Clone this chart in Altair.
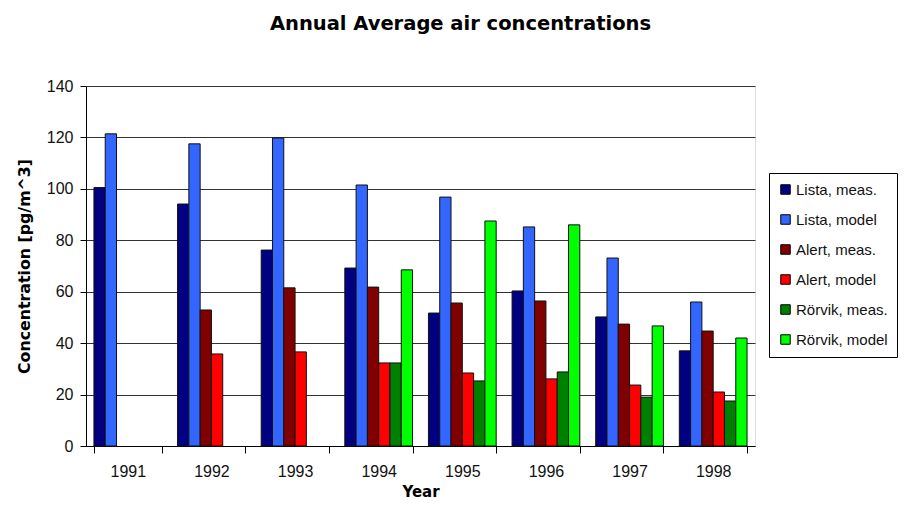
import altair as alt
import pandas as pd

years = ["1991", "1992", "1993", "1994", "1995", "1996", "1997", "1998"]
series = ["Lista, meas.", "Lista, model", "Alert, meas.", "Alert, model", "Rörvik, meas.", "Rörvik, model"]
colors = ["#000080", "#3366FF", "#800000", "#FF0000", "#008000", "#00FF00"]

lista_meas = [100.5, 94.1, 76.2, 69.2, 51.7, 60.3, 50.2, 37.0]
lista_model = [121.4, 117.5, 119.8, 101.5, 96.8, 85.2, 73.1, 56.0]
alert_meas = [None, 52.9, 61.5, 61.8, 55.6, 56.4, 47.4, 44.7]
alert_model = [None, 35.8, 36.6, 32.3, 28.4, 26.1, 23.7, 21.0]
rorvik_meas = [None, None, None, 32.3, 25.3, 28.8, 19.0, 17.5]
rorvik_model = [None, None, None, 68.5, 87.5, 86.0, 46.7, 42.0]

all_vals = [lista_meas, lista_model, alert_meas, alert_model, rorvik_meas, rorvik_model]
rows = []
for s, vals in zip(series, all_vals):
    for y, v in zip(years, vals):
        if v is not None:
            rows.append({"Year": y, "Series": s, "Value": v})
df = pd.DataFrame(rows)

FONT = "Liberation Sans"

chart = alt.Chart(df).mark_bar(stroke="#111111", strokeWidth=1).encode(
    x=alt.X("Year:N", sort=years,
            scale=alt.Scale(domain=years, paddingInner=0.19, paddingOuter=0.095),
            axis=alt.Axis(title="Year", labelAngle=0, tickBand="extent", tickSize=7,
                          labelFontSize=16, labelPadding=10, titleFontSize=15,
                          titleFontWeight="bold", titlePadding=5,
                          domainColor="black", tickColor="black", labelColor="#111111",
                          titleColor="black", grid=False, labelFont=FONT, titleFont="DejaVu Sans")),
    xOffset=alt.XOffset("Series:N", sort=series, scale=alt.Scale(domain=series, paddingInner=0, paddingOuter=0)),
    y=alt.Y("Value:Q", scale=alt.Scale(domain=[0, 140], nice=False),
            axis=alt.Axis(title="Concentration [pg/m^3]", values=list(range(0, 141, 20)),
                          tickSize=6, labelFontSize=16, labelPadding=7, titleFontSize=15.8,
                          titleFontWeight="bold", titlePadding=14,
                          domainColor="black", tickColor="black", labelColor="#111111",
                          titleColor="black", gridColor="#333333", gridWidth=1,
                          labelFont=FONT, titleFont="DejaVu Sans")),
    color=alt.Color("Series:N", sort=series,
                    scale=alt.Scale(domain=series, range=colors),
                    legend=alt.Legend(title=None, orient="none", legendX=683, legendY=87,
                                      symbolType="square", symbolSize=90,
                                      symbolStrokeColor="black", symbolStrokeWidth=1,
                                      symbolOpacity=1, labelOffset=3,
                                      labelFontSize=15, labelFont=FONT, labelColor="#111111",
                                      rowPadding=14, padding=9, strokeColor="black",
                                      fillColor="white", labelLimit=250)),
).properties(
    width=669, height=360,
    autosize=alt.AutoSizeParams(type="none"),
    padding={"left": 78, "top": 78, "right": 144, "bottom": 55},
    title=alt.TitleParams("Annual Average air concentrations", fontSize=19.5, font="DejaVu Sans",
                          fontWeight="bold", color="black", anchor="middle", dx=40,
                          offset=44),
).configure_view(stroke="#A0A0A0", strokeWidth=1).configure(background="white")

chart.save("out.html", embed_options={"renderer": "svg", "actions": False})
